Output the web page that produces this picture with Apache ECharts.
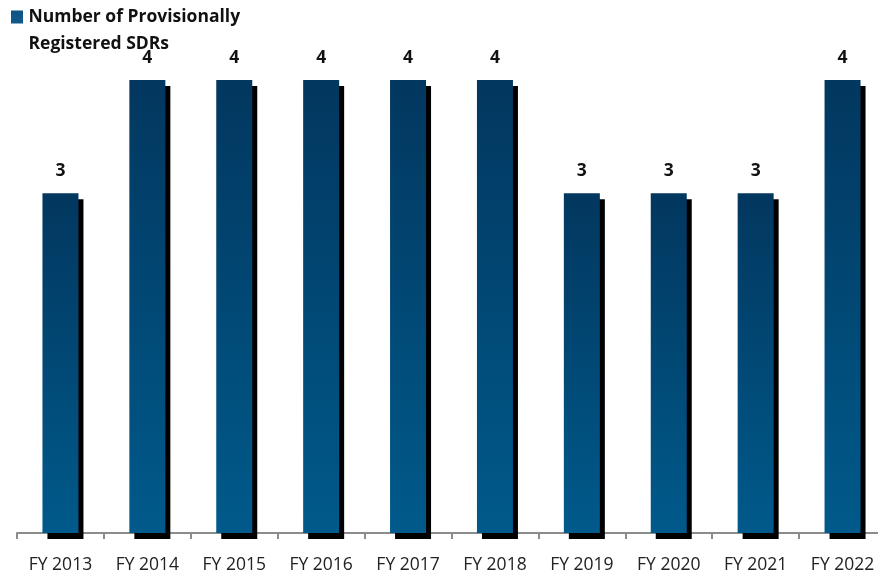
<!DOCTYPE html>
<html>
<head>
<meta charset="utf-8">
<script src="https://cdn.jsdelivr.net/npm/echarts@6/dist/echarts.min.js"></script>
<style>
html,body{margin:0;padding:0;background:#fff;overflow:hidden;}
/* the axis runs slightly past the right edge of the window */
#chart{width:886px;height:575px;}
</style>
</head>
<body>
<div id="chart"></div>
<script>
// Fiscal years and the count of provisionally registered SDRs in each
const categories = ['FY 2013','FY 2014','FY 2015','FY 2016','FY 2017','FY 2018','FY 2019','FY 2020','FY 2021','FY 2022'];
const sdrCounts = [3, 4, 4, 4, 4, 4, 3, 3, 3, 4];
const seriesName = 'Number of Provisionally Registered SDRs';

const chart = echarts.init(document.getElementById('chart'));

const barGradient = new echarts.graphic.LinearGradient(0, 0, 0, 1, [
  { offset: 0, color: '#02375f' },
  { offset: 1, color: '#005a8b' }
]);

chart.setOption({
  animation: false,
  backgroundColor: '#ffffff',
  legend: {
    left: 11,
    top: 4,
    padding: 0,
    itemWidth: 13,
    itemHeight: 54,
    itemGap: 0,
    // square sits beside the first text line; tiny dots pin the icon's bounds
    icon: 'path://M0,0 H0.01 V0.01 H0 Z M0,5.4 H10 V16.2 H0 Z M0,45 H0.01 V45.01 H0 Z',
    formatter: () => 'Number of Provisionally\nRegistered SDRs',
    textStyle: {
      fontFamily: 'Open Sans',
      fontWeight: 'bold',
      fontSize: 17.5,
      lineHeight: 27,
      color: '#111'
    },
    itemStyle: {
      color: new echarts.graphic.LinearGradient(0, 0, 0, 1, [
        { offset: 0, color: '#0d4f80' },
        { offset: 1, color: '#1a6aa0' }
      ])
    },
    data: [seriesName]
  },
  grid: { left: 17, right: 0, top: 80, bottom: 42, containLabel: false },
  xAxis: {
    type: 'category',
    data: categories,
    axisLine: { show: true, lineStyle: { color: '#8c8c8c', width: 2 } },
    axisTick: { show: true, length: 6, lineStyle: { color: '#8c8c8c', width: 2 } },
    axisLabel: {
      margin: 23,
      fontFamily: 'Open Sans',
      fontSize: 17.5,
      color: '#222'
    }
  },
  yAxis: {
    type: 'value',
    min: 0,
    max: 4,
    show: false,
    splitLine: { show: false }
  },
  series: [{
    name: seriesName,
    type: 'bar',
    data: sdrCounts,
    barWidth: 36,
    itemStyle: {
      color: barGradient,
      shadowColor: '#000',
      shadowBlur: 0,
      shadowOffsetX: 5,
      shadowOffsetY: 6
    },
    label: {
      show: true,
      position: 'top',
      distance: 13,
      fontFamily: 'Open Sans',
      fontWeight: 'bold',
      fontSize: 17.5,
      color: '#111'
    }
  }]
});
</script>
</body>
</html>
